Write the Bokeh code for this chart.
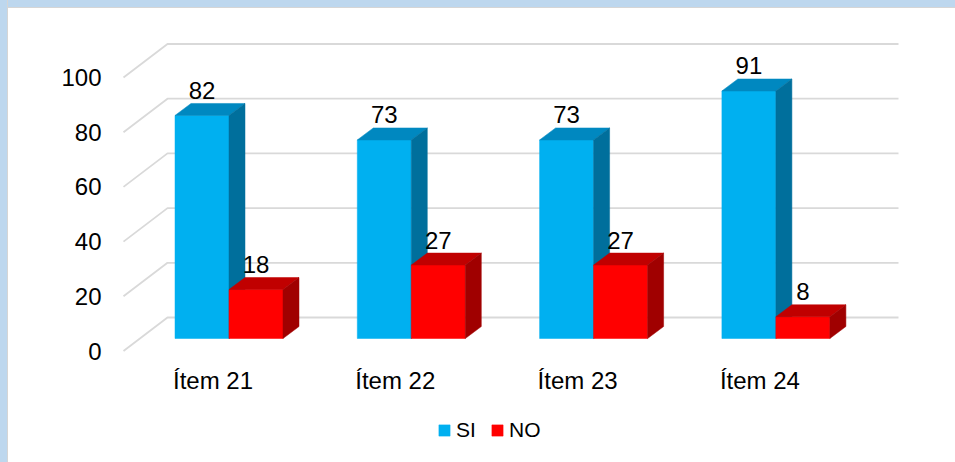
from bokeh.plotting import figure
from bokeh.models import Range1d, LinearAxis, FixedTicker, Legend, LegendItem, ColumnDataSource
from bokeh.core.properties import value
from bokeh.embed import file_html
from bokeh.resources import INLINE

# ---- data ----
categories = ["Ítem 21", "Ítem 22", "Ítem 23", "Ítem 24"]
si_values = [82, 73, 73, 91]
no_values = [18, 27, 27, 8]
series_names = ["SI", "NO"]
y_ticks = [0, 20, 40, 60, 80, 100]

# ---- layout constants (pixels, figure coordinates) ----
W, H = 939, 446
BL, BR, BT, BB = 112, 17, 8, 0
FRAME_L, FRAME_R = BL, W - BR
FRAME_T, FRAME_B = BT, H - BB

CAT_X0, CAT_STEP = 220.5, 182.3        # pixel x of first category (bar plane)
BAR_Y0, BAR_SCALE = 330.0, 2.72        # bar plane: pixel y of 0, px per unit
FRONT_Y0, FRONT_SCALE = 342.5, 2.735   # front plane
BACK_Y0 = 309.0                        # back wall
FRONT_GX, BACK_GX, GRID_END = 115.0, 159.0, 890.0
BAR_W_PX, DEPTH_X, DEPTH_Y = 54.0, 16.0, 12.0
LABEL_SHIFT = -16.0
CAT_LABEL_Y = 379.5

FONT = "Liberation Sans"

def to_x(px):
    return (px - CAT_X0) / CAT_STEP

def to_y(py):
    return (BAR_Y0 - py) / BAR_SCALE

bw = BAR_W_PX / CAT_STEP
ddx = DEPTH_X / CAT_STEP
ddy = DEPTH_Y / BAR_SCALE

p = figure(width=W, height=H, output_backend="svg", toolbar_location=None,
           x_range=Range1d(to_x(FRAME_L), to_x(FRAME_R)),
           y_range=Range1d(to_y(FRAME_B), to_y(FRAME_T)),
           min_border_left=BL, min_border_right=BR, min_border_top=BT, min_border_bottom=BB,
           x_axis_location=None, y_axis_location=None)
p.outline_line_color = None
p.background_fill_color = "white"
p.border_fill_color = "white"
p.xgrid.visible = False
p.ygrid.visible = False

# front-plane range for the value axis
p.extra_y_ranges = {"front": Range1d((FRONT_Y0 - FRAME_B) / FRONT_SCALE,
                                     (FRONT_Y0 - FRAME_T) / FRONT_SCALE)}

yax = LinearAxis(y_range_name="front", ticker=FixedTicker(ticks=y_ticks))
yax.axis_line_color = None
yax.major_tick_line_color = None
yax.minor_tick_line_color = None
yax.major_tick_out = 0
yax.major_tick_in = 0
yax.major_label_standoff = 19
yax.major_label_text_font = FONT
yax.major_label_text_font_size = "24px"
yax.major_label_text_color = "#000000"
p.add_layout(yax, "left")

# ---- gridlines (side wall diagonal + back wall) ----
gxs, gys = [], []
for t in y_ticks:
    yf = FRONT_Y0 - FRONT_SCALE * t
    yb = BACK_Y0 - FRONT_SCALE * t
    gxs.append([to_x(FRONT_GX), to_x(BACK_GX), to_x(GRID_END)])
    gys.append([to_y(yf), to_y(yb), to_y(yb)])
p.multi_line(gxs, gys, line_color="#D9D9D9", line_width=1.8)

# ---- 3D bars ----
series = [
    (si_values, -bw, 0.0, "#00B0F0", "#0088C0", "#006F9C"),
    (no_values, 0.0, bw, "#FF0000", "#C00000", "#A00000"),
]
front_renderers = []
for ci in range(len(categories)):
    for si, (vals, l_off, r_off, c_front, c_top, c_side) in enumerate(series):
        v = vals[ci]
        l = ci + l_off
        r = ci + r_off
        src = ColumnDataSource(dict(left=[l], right=[r], bottom=[0], top=[v]))
        fr = p.quad(left="left", right="right", bottom="bottom", top="top", source=src,
                    fill_color=c_front, line_color=c_front, line_width=0.5)
        if ci == 0:
            front_renderers.append(fr)
        p.patch([l, r, r + ddx, l + ddx], [v, v, v + ddy, v + ddy],
                fill_color=c_top, line_color=c_top, line_width=0.5)
        p.patch([r, r + ddx, r + ddx, r], [0, ddy, v + ddy, v],
                fill_color=c_side, line_color=c_side, line_width=0.5)

# ---- data labels ----
lx, ly, lt = [], [], []
for ci in range(len(categories)):
    for vals, l_off, r_off, *_ in series:
        v = vals[ci]
        lx.append(ci + (l_off + r_off) / 2)
        ly.append(v + ddy)
        lt.append(str(v))
p.text(x=lx, y=ly, text=lt, text_align="center", text_baseline="alphabetic",
       y_offset=-13, text_font=value(FONT), text_font_size="24px", text_color="#000000")

# ---- category labels (on the front edge of the floor) ----
cx = [i + LABEL_SHIFT / CAT_STEP for i in range(len(categories))]
cy = [to_y(CAT_LABEL_Y)] * len(categories)
p.text(x=cx, y=cy, text=categories, text_align="center", text_baseline="alphabetic",
       y_offset=-8, text_font=value(FONT), text_font_size="24px", text_color="#000000")

# ---- legend ----
legend = Legend(items=[LegendItem(label=series_names[0], renderers=[front_renderers[0]]),
                       LegendItem(label=series_names[1], renderers=[front_renderers[1]])],
                orientation="horizontal", location=(317, 12),
                glyph_width=14, glyph_height=14, label_standoff=5, spacing=14,
                padding=0, margin=0,
                label_text_font=FONT, label_text_font_size="21px",
                label_text_color="#000000",
                border_line_color=None, background_fill_alpha=0)
p.add_layout(legend, "center")

html = file_html(p, INLINE)
css = ("<style>html,body{margin:0 !important;padding:0;overflow:hidden;}"
       "body{padding:8px 0 0 8px !important;box-sizing:border-box;height:100%;background:transparent;}"
       "html{height:100%;background-color:#fff;background-image:"
       "linear-gradient(to right,#BDD7EE 7px,#D5D5D5 7px,#D5D5D5 8px,transparent 8px),"
       "linear-gradient(to bottom,#BDD7EE 7px,#D5D5D5 7px,#D5D5D5 8px,transparent 8px);"
       "background-repeat:no-repeat;background-size:100% 100%;}</style>")
html = html.replace("</head>", css + "</head>")
open("out.html", "w").write(html)
